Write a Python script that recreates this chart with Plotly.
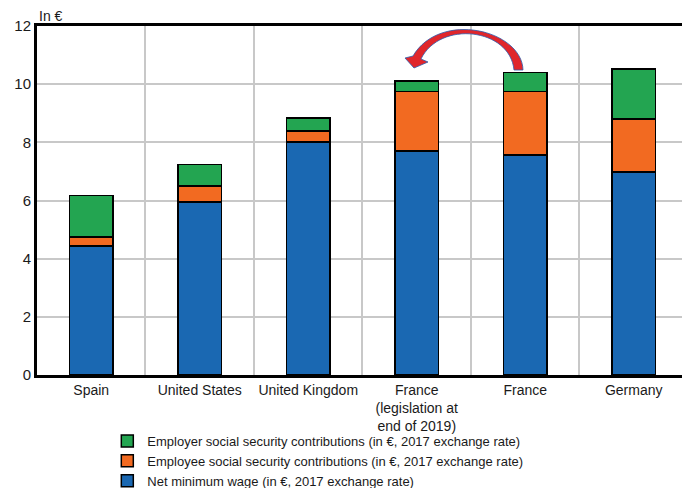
import plotly.graph_objects as go

categories = ["Spain", "United States", "United Kingdom",
              "France<br>(legislation at<br>end of 2019)", "France", "Germany"]
net_wage = [4.44, 5.95, 8.01, 7.71, 7.57, 6.98]
employee_ssc = [0.31, 0.55, 0.38, 2.03, 2.17, 1.83]
employer_ssc = [1.43, 0.73, 0.45, 0.37, 0.66, 1.71]
series_names = ["Net minimum wage (in €, 2017 exchange rate)",
                "Employee social security contributions (in €, 2017 exchange rate)",
                "Employer social security contributions (in €, 2017 exchange rate)"]
colors = ["#1a68b2", "#f26a21", "#23a551"]
y_ticks = [0, 2, 4, 6, 8, 10, 12]

W, H = 682, 488
ML, MT, MB = 37, 26, 113
X0, X1 = -0.5, 5.445
Y0, Y1 = 0, 12

xs = list(range(len(categories)))
fig = go.Figure()
for name, vals, col in zip(series_names, [net_wage, employee_ssc, employer_ssc], colors):
    fig.add_trace(go.Bar(x=xs, y=vals, name=name, width=0.4,
                         marker=dict(color=col, line=dict(color="black", width=1.5))))

# curved arrow from France (current) to France (legislation end 2019)
pw = W - ML
ph = H - MT - MB
def px2d(px, py):
    return (X0 + (px - ML) / pw * (X1 - X0), Y0 + (H - MB - py) / ph * (Y1 - Y0))

pts = [("M", [(523, 70)]), ("C", [(522, 30), (440, 10), (413, 56)]),
       ("L", [(405, 58)]), ("L", [(414, 68)]), ("L", [(428, 62)]), ("L", [(421, 59)]),
       ("C", [(440, 20), (510, 28), (514, 70)])]
path = ""
for cmd, ps in pts:
    path += cmd + " ".join("%.4f,%.4f" % px2d(*p) for p in ps) + " "
path += "Z"
fig.add_shape(type="path", path=path, xref="x", yref="y",
              fillcolor="#e0262b", line=dict(color="#2a5db0", width=0.8), layer="above")

fig.update_layout(
    width=W, height=H, barmode="stack",
    margin=dict(l=ML, r=0, t=MT, b=MB, autoexpand=False),
    plot_bgcolor="white", paper_bgcolor="white",
    font=dict(family="Liberation Sans, Arial, sans-serif", color="#1a1a1a"),
    showlegend=True,
    legend=dict(orientation="v", traceorder="reversed", x=0.109, xanchor="left",
                y=-0.146, yanchor="top", font=dict(size=13), itemclick=False,
                bgcolor="rgba(0,0,0,0)", tracegroupgap=0),
    xaxis=dict(range=[X0, X1], tickmode="array", tickvals=xs, ticktext=categories,
               showgrid=False, showline=True, linecolor="black", linewidth=3, mirror=True,
               ticks="", tickfont=dict(size=14), zeroline=False,
               minor=dict(tickvals=[i + 0.5 for i in xs[:-1]], showgrid=True,
                          gridcolor="#c8c8c8", gridwidth=1.5, ticks="")),
    yaxis=dict(range=[Y0, Y1], tickvals=y_ticks, showgrid=True, gridcolor="#c8c8c8",
               gridwidth=1.5, showline=True, linecolor="black", linewidth=3,
               ticks="", tickfont=dict(size=15), zeroline=False),
    annotations=[dict(text="In €", xref="paper", yref="paper", x=0.0, y=1.0,
                      xanchor="left", yanchor="bottom", showarrow=False,
                      font=dict(size=14), xshift=0, yshift=0)],
)
fig.write_html("out.html")
